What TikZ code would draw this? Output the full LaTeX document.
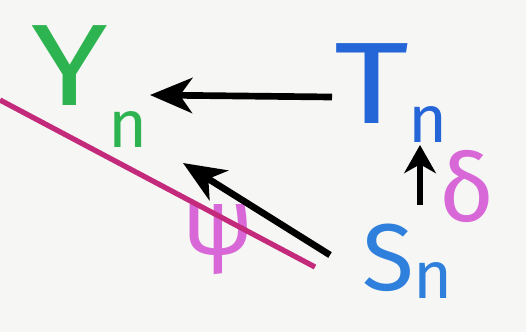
\documentclass[tikz,border=0pt]{standalone}
\usepackage{fontspec}
\setmainfont{Fira Sans}
\usetikzlibrary{arrows.meta,calc}
\definecolor{ygreen}{HTML}{2DB450}
\definecolor{tblue}{HTML}{2466D8}
\definecolor{sblue}{HTML}{2F7FDC}
\definecolor{mapmag}{HTML}{D868D8}
\definecolor{cutmag}{HTML}{C42A7C}
\definecolor{paper}{HTML}{F6F6F4}
\tikzset{
  obj/.style={inner sep=0pt, font=\fontsize{66}{66}\selectfont},
  idx/.style={inner sep=0pt, font=\fontsize{38}{38}\selectfont},
  lbl/.style={inner sep=0pt, text=mapmag, font=\fontsize{54}{54}\selectfont},
  map/.style={line width=3.8pt, -{Stealth[length=24pt,width=20pt,inset=7pt]}},
}
\begin{document}
\begin{tikzpicture}[x=0.02cm,y=-0.02cm]
\fill[paper] (0,0) rectangle (526,332);
\useasboundingbox (0,0) rectangle (526,332);

\node[obj, text=ygreen] (y) at (70,66) {\scalebox{1.2}[1]{Y}};
\node[idx, text=ygreen] (yn) at (128,130) {n};
\node[obj, text=tblue] (t) at (372,84) {\scalebox{1.25}[1]{T}};
\node[idx, text=tblue] (tn) at (428,124) {n};
\node[obj, text=sblue, font=\fontsize{54}{54}\selectfont] (s) at (388,258) {S};
\node[idx, text=sblue] (sn) at (433,280) {n};

\node[lbl] (d) at (467,186) {δ};
\node[lbl] (p) at (218,240) {ψ};

\draw[map] ($(t)+(-40,13)$) -- ($(y)+(80,29)$);
\draw[map, -{Stealth[length=16pt,width=18pt,inset=5pt]}] ($(s)+(32,-53)$) -- ($(tn)+(-8,21)$);
\draw[map] ($(s)+(-58,-3)$) -- ($(yn)+(55,33)$);

% the cut
\draw[cutmag, line width=3pt] (0,100) -- (315,267);
\end{tikzpicture}
\end{document}
